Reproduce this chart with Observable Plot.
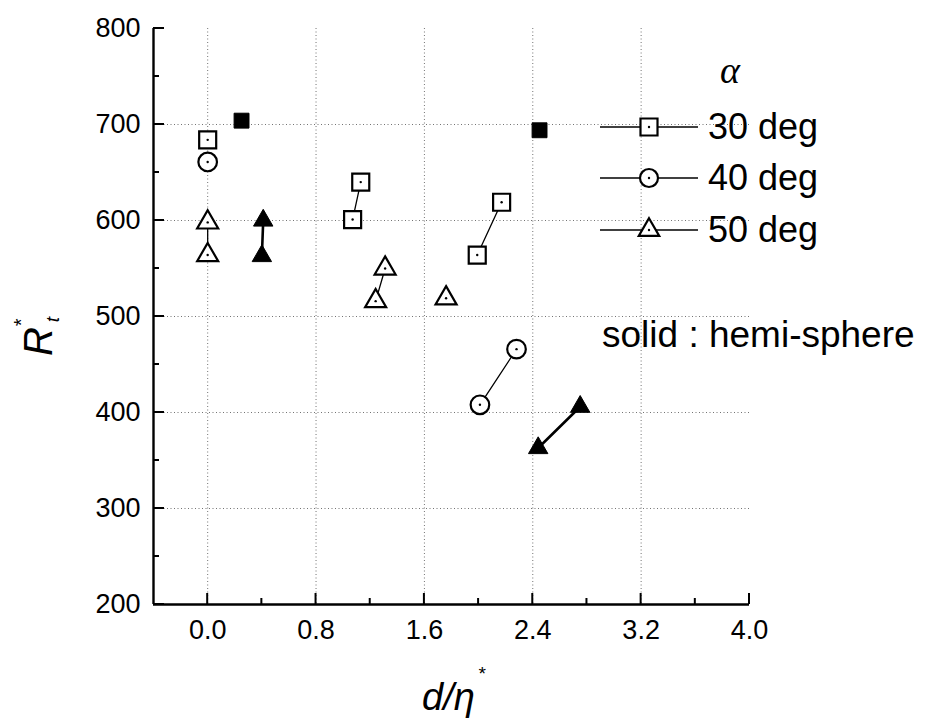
<!DOCTYPE html>
<html><head><meta charset="utf-8">
<script src="https://cdn.jsdelivr.net/npm/d3@7"></script>
<script src="https://cdn.jsdelivr.net/npm/@observablehq/plot@0.6"></script>
<style>
body{margin:0;background:#fff;}
#wrap{position:relative;width:927px;height:720px;font-family:"Liberation Sans",Arial,sans-serif;}
#wrap svg{position:absolute;left:0;top:0;}
#wrap svg [aria-label$="tick label"]{font-size:27px !important;}
</style></head><body><div id="wrap"></div>
<script>
// ---- data ----
const seriesNames = ["30 deg", "40 deg", "50 deg"];
const seriesSymbols = ["square", "circle", "triangle"];
const ptSeries = [0, 0, 0, 0, 0, 0, 0, 1, 1, 1, 2, 2, 2, 2, 2, 2, 2, 2, 2];
const ptX = [0.00, 1.07, 1.13, 1.99, 2.17, 0.25, 2.45, 0.00, 2.01, 2.28, 0.00, 0.00, 1.24, 1.31, 1.76, 0.41, 0.40, 2.44, 2.75];
const ptY = [684, 601, 640, 564, 619, 704, 694, 661, 408, 466, 598, 564, 516, 550, 519, 600, 563, 363, 406];
const ptSolid = [false, false, false, false, false, true, true, false, false, false, false, false, false, false, false, true, true, true, true];
const ptGroup = ["a", "b", "b", "c", "c", "d", "e", "f", "g", "g", "h", "h", "i", "i", "j", "k", "k", "l", "l"];
const xMajor = [0, 0.8, 1.6, 2.4, 3.2, 4.0];
const xMinor = [0.4, 1.2, 2.0, 2.8, 3.6];
const yMajor = [200, 300, 400, 500, 600, 700, 800];
const yMinor = [250, 350, 450, 550, 650, 750];
const xLabel = "d/η";
const yLabel = "R";
const legendTitle = "α";
const note = "solid : hemi-sphere";

const pts = ptX.map((x, i) => ({x, y: ptY[i], s: ptSeries[i], solid: ptSolid[i], g: ptGroup[i]}));
const symR = {square: 9.6, circle: 9.3, triangle: 7.8};
const solidR = {square: 8.4, circle: 9.3, triangle: 7.2};

const gridStyle = {stroke: "#444", strokeOpacity: 0.75, strokeDasharray: "1,2.5", strokeWidth: 1};

const marks = [
  Plot.gridX(xMajor.filter(d => d < 4), gridStyle),
  Plot.gridY(yMajor.filter(d => d > 200 && d < 800), gridStyle),
  Plot.axisX(xMajor, {tickSize: 0, tickPadding: 15, tickFormat: d3.format(".1f"), label: null, fontSize: 27}),
  Plot.axisY(yMajor, {tickSize: 0, tickPadding: 13, tickFormat: d3.format("d"), label: null, fontSize: 27}),
  Plot.ruleY([200], {strokeWidth: 2.4}),
  Plot.ruleX([-0.4], {strokeWidth: 2.4}),
  Plot.line(pts.filter(d => !d.solid), {x: "x", y: "y", z: "g", stroke: "black", strokeWidth: 1.3}),
  Plot.line(pts.filter(d => d.solid), {x: "x", y: "y", z: "g", stroke: "black", strokeWidth: 2.6})
];
seriesSymbols.forEach((sym, k) => {
  marks.push(Plot.dot(pts.filter(d => d.s === k && !d.solid), {x: "x", y: "y", symbol: sym, r: symR[sym], fill: "white", stroke: "black", strokeWidth: 2.2}));
  marks.push(Plot.dot(pts.filter(d => d.s === k && d.solid), {x: "x", y: "y", symbol: sym, r: solidR[sym], fill: "black", stroke: "black", strokeWidth: 1}));
});
marks.push(Plot.dot(pts.filter(d => !d.solid), {x: "x", y: "y", r: 1.2, fill: "black"}));

const plot = Plot.plot({
  width: 927, height: 720,
  marginLeft: 153, marginRight: 178, marginTop: 28, marginBottom: 116,
  x: {domain: [-0.4, 4.0]},
  y: {domain: [200, 800]},
  style: {fontFamily: "'Liberation Sans', Arial, sans-serif", fontSize: "27px", color: "black", background: "transparent"},
  marks
});
document.getElementById("wrap").appendChild(plot);

// ---- overlay: inward ticks (from Plot's scales), axis titles, legend, note ----
const sx = plot.scale("x"), sy = plot.scale("y");
const X = v => sx.apply(v), Y = v => sy.apply(v);
const svg = d3.select("#wrap").append("svg").attr("width", 927).attr("height", 720)
  .style("font-family", "'Liberation Sans', Arial, sans-serif");

const x0 = X(-0.4), y0 = Y(200);
const tk = svg.append("g").attr("stroke", "black").attr("stroke-width", 2);
xMajor.forEach(v => tk.append("line").attr("x1", X(v)).attr("x2", X(v)).attr("y1", y0).attr("y2", y0 - 11));
xMinor.forEach(v => tk.append("line").attr("x1", X(v)).attr("x2", X(v)).attr("y1", y0).attr("y2", y0 - 6));
yMajor.forEach(v => tk.append("line").attr("x1", x0).attr("x2", x0 + 11).attr("y1", Y(v)).attr("y2", Y(v)));
yMinor.forEach(v => tk.append("line").attr("x1", x0).attr("x2", x0 + 6).attr("y1", Y(v)).attr("y2", Y(v)));

const yl = svg.append("text").attr("transform", "translate(52,356) rotate(-90)")
  .attr("font-size", 40).attr("font-style", "italic").text(yLabel);
yl.append("tspan").attr("font-size", 20).attr("dy", -24).text("*");
yl.append("tspan").attr("font-size", 19).attr("dy", 31).attr("dx", -3).text("t");

const xl = svg.append("text").attr("x", 422).attr("y", 710)
  .attr("font-size", 38).attr("font-style", "italic").text(xLabel);
xl.append("tspan").attr("font-size", 19).attr("dy", -30).attr("dx", 3).text("*");

svg.append("text").attr("x", 730).attr("y", 83).attr("text-anchor", "middle")
  .attr("font-family", "'Liberation Serif', serif").attr("font-style", "italic")
  .attr("font-size", 38).text(legendTitle);

const rowY = [127, 178, 230];
seriesNames.forEach((name, k) => {
  const g = svg.append("g").attr("transform", `translate(0,${rowY[k]})`);
  g.append("line").attr("x1", 600).attr("x2", 698).attr("y1", 0).attr("y2", 0)
    .attr("stroke", "black").attr("stroke-width", 1.6);
  const sym = seriesSymbols[k];
  const d3sym = sym === "square" ? d3.symbolSquare : sym === "circle" ? d3.symbolCircle : d3.symbolTriangle;
  const r = {square: 9.6, circle: 9, triangle: 7.6}[sym];
  g.append("path").attr("transform", "translate(649,0)")
    .attr("d", d3.symbol(d3sym, Math.PI * r * r)())
    .attr("fill", "white").attr("stroke", "black").attr("stroke-width", 2.2);
  g.append("circle").attr("cx", 649).attr("cy", 0).attr("r", 1.2).attr("fill", "black");
  g.append("text").attr("x", 708).attr("y", 12).attr("font-size", 36).text(name);
});

svg.append("text").attr("x", 602).attr("y", 347).attr("font-size", 37).text(note);
</script>
</body></html>
